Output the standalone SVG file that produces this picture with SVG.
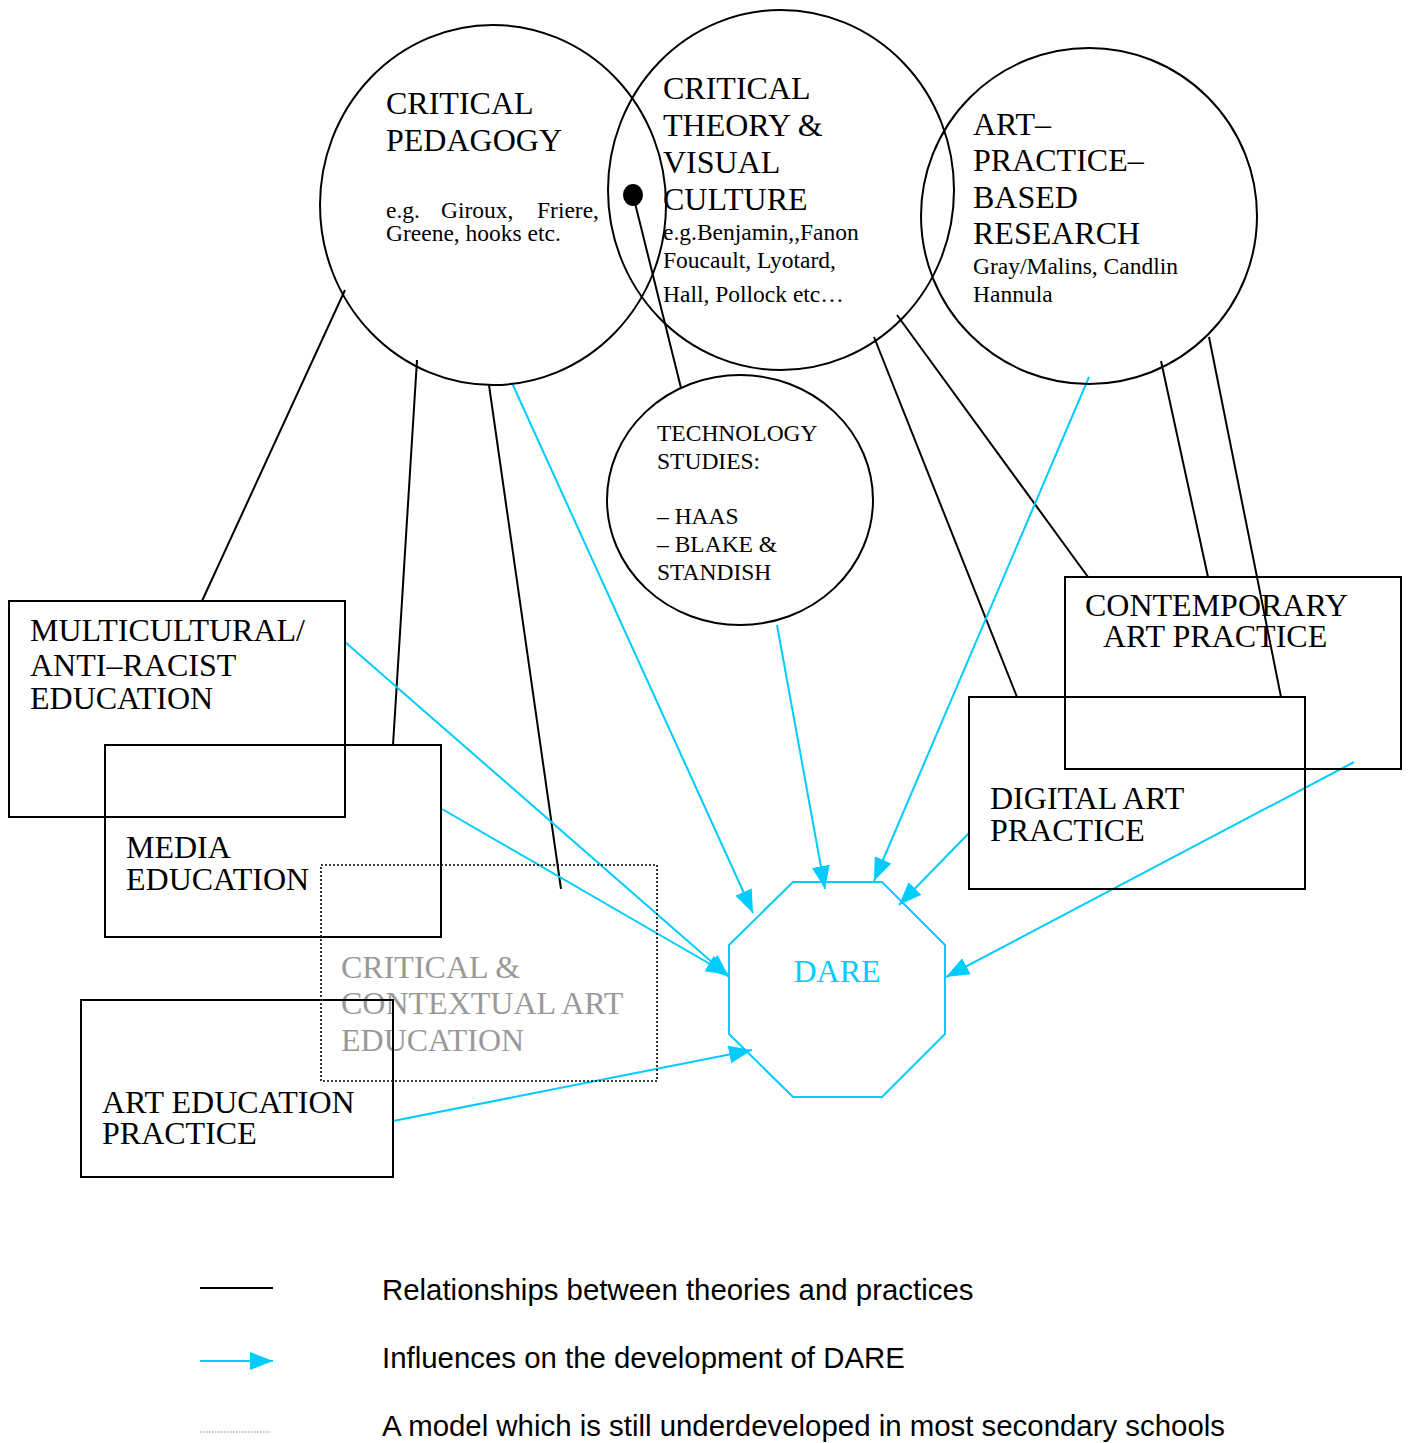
<svg xmlns="http://www.w3.org/2000/svg" width="1408" height="1443" viewBox="0 0 1408 1443">
<style>
.shape{fill:none;stroke:#000;stroke-width:2}
.dotted{fill:none;stroke:#000;stroke-width:1.6;stroke-dasharray:2,2}
.rel{stroke:#000;stroke-width:2;fill:none}
.inf{stroke:#00CCFF;stroke-width:2;fill:none;marker-end:url(#ah)}
.t{font-family:"Liberation Serif","Times New Roman",serif;font-size:32px;fill:#000}
.s{font-family:"Liberation Serif","Times New Roman",serif;font-size:23.5px;fill:#000}
.g{fill:#999}
.leg{font-family:"Liberation Sans",Arial,sans-serif;font-size:29.4px;fill:#000}
</style>
<defs>
<marker id="ah" markerUnits="userSpaceOnUse" markerWidth="24" markerHeight="20" viewBox="0 0 24 20" refX="23" refY="10" orient="auto">
<path d="M0,1 L23,10 L0,19 z" fill="#00CCFF"/>
</marker>
</defs>
<rect width="1408" height="1443" fill="#fff"/>

<g id="connectors">
<line class="rel" x1="345" y1="290" x2="202" y2="601"/>
<line class="rel" x1="417" y1="360" x2="393" y2="745"/>
<line class="rel" x1="489" y1="385" x2="561" y2="889"/>
<line class="rel" x1="633" y1="195" x2="681" y2="388"/>
<ellipse cx="633" cy="195" rx="10" ry="11" fill="#000"/>
<line class="rel" x1="874" y1="337" x2="1017" y2="697"/>
<line class="rel" x1="897" y1="315" x2="1088" y2="577"/>
<line class="rel" x1="1161" y1="361" x2="1208" y2="577"/>
<line class="rel" x1="1209" y1="337" x2="1281" y2="697"/>

<line class="inf" x1="512" y1="383" x2="753" y2="913"/>
<line class="inf" x1="345" y1="642" x2="729" y2="977"/>
<line class="inf" x1="442" y1="809" x2="729" y2="975"/>
<line class="inf" x1="393" y1="1121" x2="752" y2="1050"/>
<line class="inf" x1="777" y1="625" x2="825" y2="889"/>
<line class="inf" x1="1089" y1="377" x2="874" y2="881"/>
<line class="inf" x1="969" y1="833" x2="899" y2="905"/>
<line class="inf" x1="1354" y1="762" x2="946" y2="977"/>
</g>

<g id="critical-pedagogy">
<ellipse class="shape" cx="493" cy="205" rx="173" ry="180"/>
<text class="t" x="386" y="114">CRITICAL</text>
<text class="t" x="386" y="151">PEDAGOGY</text>
<text class="s" x="386" y="218">e.g.</text>
<text class="s" x="441" y="218">Giroux,</text>
<text class="s" x="537" y="218">Friere,</text>
<text class="s" x="386" y="241">Greene, hooks etc.</text>
</g>

<g id="critical-theory">
<ellipse class="shape" cx="781" cy="190" rx="173" ry="180"/>
<text class="t" x="663" y="99">CRITICAL</text>
<text class="t" x="663" y="136">THEORY &amp;</text>
<text class="t" x="663" y="173">VISUAL</text>
<text class="t" x="663" y="210">CULTURE</text>
<text class="s" x="663" y="240">e.g.Benjamin,,Fanon</text>
<text class="s" x="663" y="268">Foucault, Lyotard,</text>
<text class="s" x="663" y="302">Hall, Pollock etc…</text>
</g>

<g id="art-practice-based-research">
<ellipse class="shape" cx="1089" cy="216" rx="168" ry="168"/>
<text class="t" x="973" y="135">ART–</text>
<text class="t" x="973" y="171">PRACTICE–</text>
<text class="t" x="973" y="208">BASED</text>
<text class="t" x="973" y="244">RESEARCH</text>
<text class="s" x="973" y="274">Gray/Malins, Candlin</text>
<text class="s" x="973" y="302">Hannula</text>
</g>

<g id="technology-studies">
<ellipse class="shape" cx="740" cy="500" rx="133" ry="125"/>
<text class="s" x="657" y="441">TECHNOLOGY</text>
<text class="s" x="657" y="469">STUDIES:</text>
<text class="s" x="657" y="524">– HAAS</text>
<text class="s" x="657" y="552">– BLAKE &amp;</text>
<text class="s" x="657" y="580">STANDISH</text>
</g>

<g id="multicultural">
<rect class="shape" x="9" y="601" width="336" height="216"/>
<text class="t" x="30" y="641">MULTICULTURAL/</text>
<text class="t" x="30" y="676">ANTI–RACIST</text>
<text class="t" x="30" y="709">EDUCATION</text>
</g>

<g id="media-education">
<rect class="shape" x="105" y="745" width="336" height="192"/>
<text class="t" x="126" y="858">MEDIA</text>
<text class="t" x="126" y="890">EDUCATION</text>
</g>

<g id="critical-contextual">
<rect class="dotted" x="321" y="865" width="336" height="216"/>
<text class="t g" x="341" y="978">CRITICAL &amp;</text>
<text class="t g" x="341" y="1014">CONTEXTUAL ART</text>
<text class="t g" x="341" y="1051">EDUCATION</text>
</g>

<g id="art-education-practice">
<rect class="shape" x="81" y="1000" width="312" height="177"/>
<text class="t" x="102" y="1113">ART EDUCATION</text>
<text class="t" x="102" y="1144">PRACTICE</text>
</g>

<g id="contemporary-art-practice">
<rect class="shape" x="1065" y="577" width="336" height="192"/>
<text class="t" x="1085" y="616">CONTEMPORARY</text>
<text class="t" x="1103" y="647">ART PRACTICE</text>
</g>

<g id="digital-art-practice">
<rect class="shape" x="969" y="697" width="336" height="192"/>
<text class="t" x="990" y="809">DIGITAL ART</text>
<text class="t" x="990" y="841">PRACTICE</text>
</g>

<g id="dare">
<polygon points="793,882 882,882 945,945 945,1034 882,1097 793,1097 729,1034 729,945" fill="none" stroke="#00CCFF" stroke-width="2"/>
<text x="837" y="982" text-anchor="middle" style="font-family:'Liberation Serif','Times New Roman',serif;font-size:32px;fill:#00CCFF">DARE</text>
</g>

<g id="legend">
<line x1="200" y1="1288" x2="273" y2="1288" stroke="#000" stroke-width="2"/>
<line class="inf" x1="200" y1="1361" x2="273" y2="1361"/>
<line x1="200" y1="1432" x2="270" y2="1432" stroke="#888" stroke-width="1.2" stroke-dasharray="1.5,1.5"/>
<text class="leg" x="382" y="1300">Relationships between theories and practices</text>
<text class="leg" x="382" y="1368">Influences on the development of DARE</text>
<text class="leg" x="382" y="1436">A model which is still underdeveloped in most secondary schools</text>
</g>
</svg>
